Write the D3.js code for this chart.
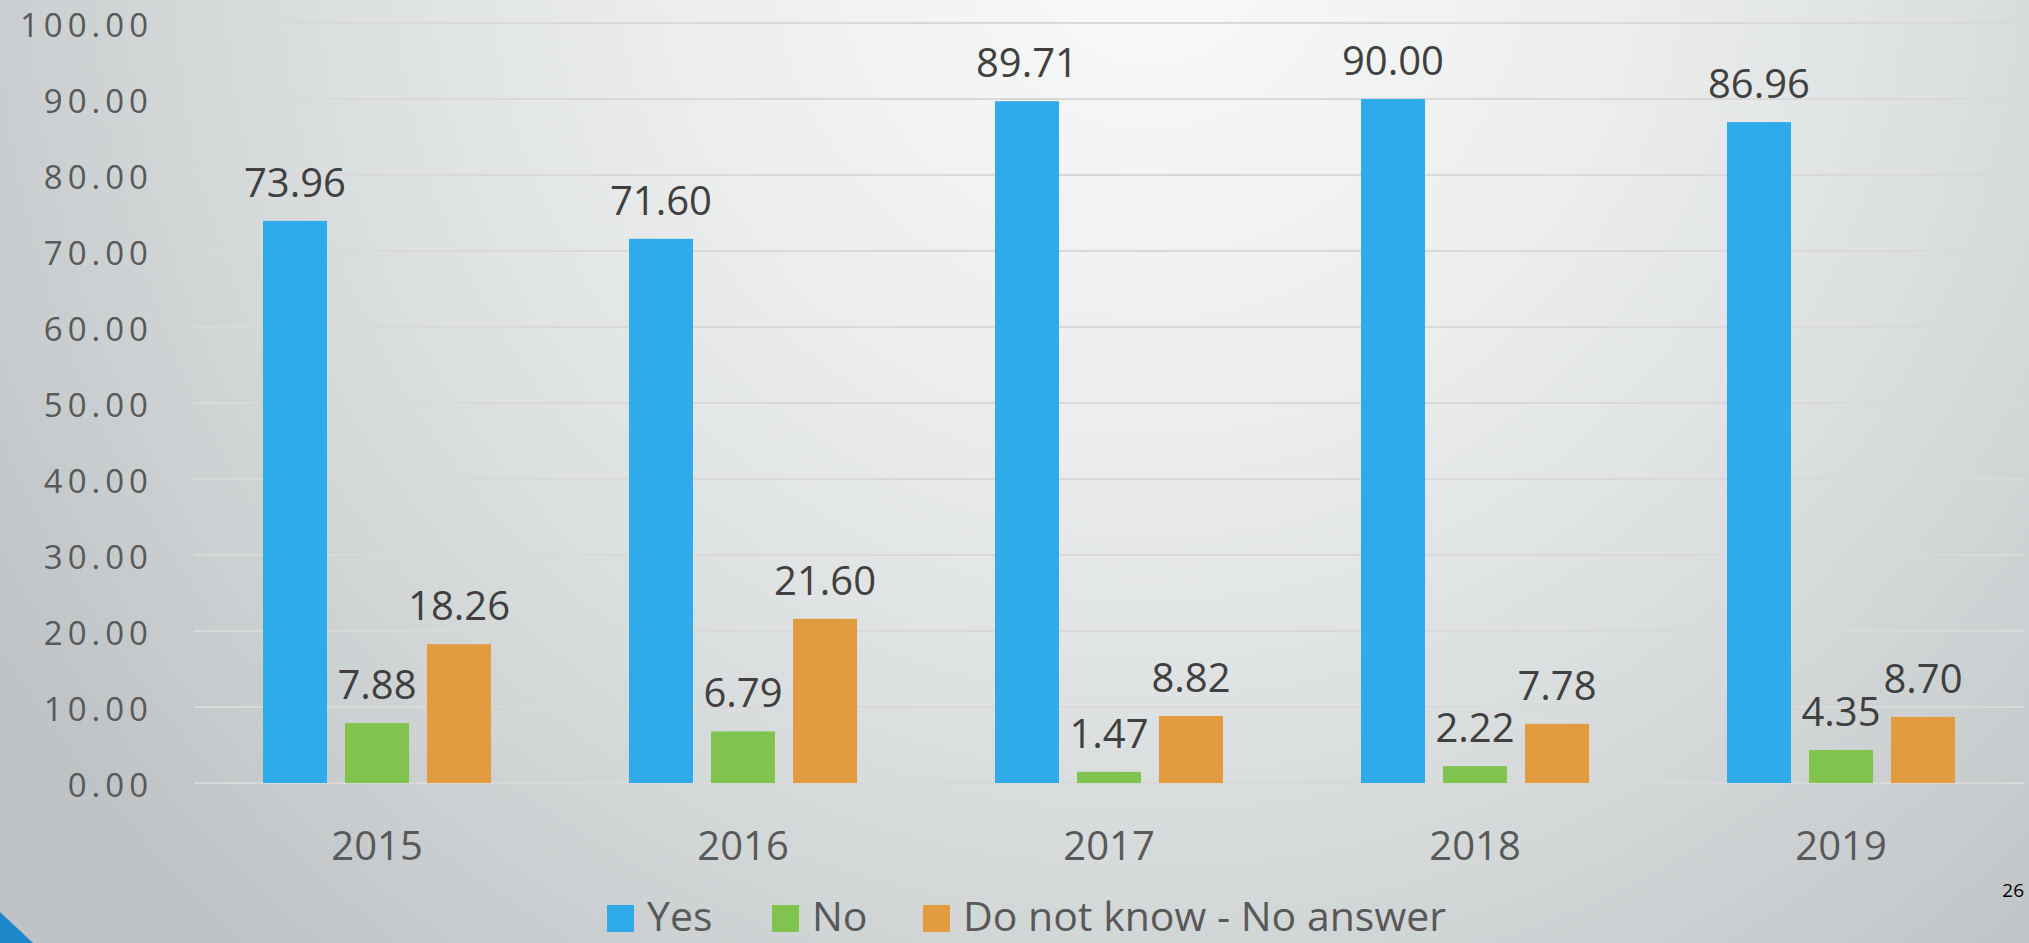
<!DOCTYPE html>
<html>
<head>
<meta charset="utf-8">
<script src="https://cdn.jsdelivr.net/npm/d3@7"></script>
<style>
  html, body { margin: 0; padding: 0; overflow: hidden; }
  svg { display: block; }
  text { font-family: "Open Sans", "Noto Sans", sans-serif; }
</style>
</head>
<body>
<svg id="chart" width="2029" height="943"></svg>
<script>
// ---- data ----
const years = ["2015", "2016", "2017", "2018", "2019"];
const seriesNames = ["Yes", "No", "Do not know - No answer"];
const yesValues = [73.96, 71.60, 89.71, 90.00, 86.96];
const noValues = [7.88, 6.79, 1.47, 2.22, 4.35];
const dkValues = [18.26, 21.60, 8.82, 7.78, 8.70];
const yTicks = [0, 10, 20, 30, 40, 50, 60, 70, 80, 90, 100];
const seriesColors = ["#2fabea", "#80c34f", "#e29c3f"];
const pageNumber = "26";

const seriesValues = [yesValues, noValues, dkValues];

const W = 2029, H = 943;
const svg = d3.select("#chart");

// ---- background ----
const defs = svg.append("defs");
const bg = defs.append("radialGradient")
  .attr("id", "bg").attr("gradientUnits", "userSpaceOnUse")
  .attr("cx", 1150).attr("cy", -60).attr("r", 1350);
bg.append("stop").attr("offset", "0").attr("stop-color", "#f9fafa");
bg.append("stop").attr("offset", "0.35").attr("stop-color", "#eceeee");
bg.append("stop").attr("offset", "0.7").attr("stop-color", "#d6d9da");
bg.append("stop").attr("offset", "1").attr("stop-color", "#bfc3c5");
svg.append("rect").attr("width", W).attr("height", H).attr("fill", "url(#bg)");

// ---- scales ----
const x0 = d3.scaleBand().domain(years).range([194, 2024]).padding(0);
const x1 = d3.scaleBand().domain(seriesNames).range([0, x0.bandwidth()])
  .paddingInner(0.2195).paddingOuter(0.841);
const y = d3.scaleLinear().domain([0, 100]).range([783, 23]);

// ---- gridlines ----
svg.append("g")
  .selectAll("line").data(yTicks).join("line")
  .attr("x1", 194).attr("x2", 2024)
  .attr("y1", d => y(d)).attr("y2", d => y(d))
  .attr("stroke", "#d9d9d9").attr("stroke-width", 2);

// ---- y axis ----
const yAxis = svg.append("g")
  .attr("transform", "translate(194,0)")
  .call(d3.axisLeft(y).tickValues(yTicks).tickFormat(d3.format(".2f")).tickSize(0).tickPadding(41));
yAxis.select(".domain").remove();
yAxis.selectAll("text")
  .attr("font-family", "Open Sans")
  .attr("font-size", 33)
  .attr("letter-spacing", 5)
  .attr("fill", "#595959")
  .attr("dy", "0.40em");

// ---- x axis ----
const xAxis = svg.append("g")
  .attr("transform", "translate(0,783)")
  .call(d3.axisBottom(x0).tickSize(0).tickPadding(0));
xAxis.select(".domain").remove();
xAxis.selectAll("text")
  .attr("font-family", "Open Sans")
  .attr("font-size", 40)
  .attr("fill", "#595959")
  .attr("dy", null)
  .attr("y", 77);

// ---- bars ----
const groups = svg.append("g").selectAll("g").data(years).join("g")
  .attr("transform", d => `translate(${x0(d)},0)`);

groups.selectAll("rect")
  .data((yr, i) => seriesNames.map((s, j) => ({ s, j, v: seriesValues[j][i] })))
  .join("rect")
  .attr("x", d => x1(d.s))
  .attr("width", x1.bandwidth())
  .attr("y", d => y(d.v))
  .attr("height", d => y(0) - y(d.v))
  .attr("fill", d => seriesColors[d.j]);

groups.selectAll("text.lbl")
  .data((yr, i) => seriesNames.map((s, j) => ({ s, j, v: seriesValues[j][i] })))
  .join("text")
  .attr("class", "lbl")
  .attr("x", d => x1(d.s) + x1.bandwidth() / 2)
  .attr("y", d => y(d.v) - 24)
  .attr("text-anchor", "middle")
  .attr("font-size", 40)
  .attr("fill", "#404040")
  .text(d => d3.format(".2f")(d.v));

// ---- legend ----
const legendX = [607, 772, 923];
const legend = svg.append("g");
seriesNames.forEach((s, j) => {
  const g = legend.append("g").attr("transform", `translate(${legendX[j]},905)`);
  g.append("rect").attr("width", 27).attr("height", 27).attr("fill", seriesColors[j]);
  g.append("text").attr("x", 40).attr("y", 26)
    .attr("font-size", 41).attr("fill", "#595959").text(s);
});

// ---- decorations ----
svg.append("path").attr("d", "M0,912 L33,943 L0,943 Z").attr("fill", "#1d87ca");
svg.append("text").attr("x", 2024).attr("y", 897).attr("text-anchor", "end")
  .attr("font-size", 19).attr("fill", "#000").text(pageNumber);
</script>
</body>
</html>
